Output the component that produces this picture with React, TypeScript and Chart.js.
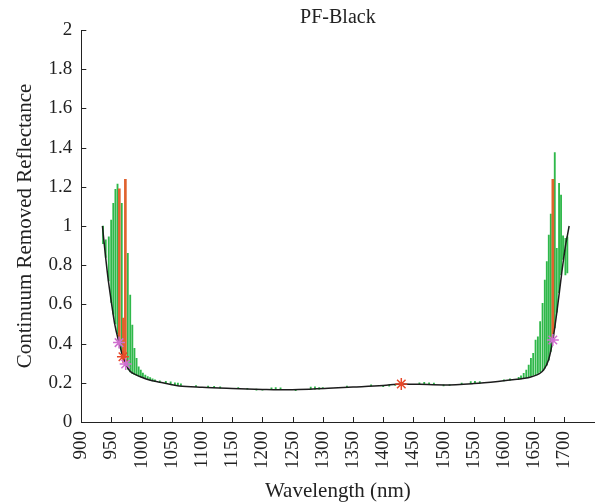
import React, { useEffect, useRef } from "react";
import { Chart, registerables } from "chart.js";

Chart.register(...registerables);

const TITLE = "PF-Black";
const X_LABEL = "Wavelength (nm)";
const Y_LABEL = "Continuum Removed Reflectance";

const X_TICKS = [900, 950, 1000, 1050, 1100, 1150, 1200, 1250, 1300, 1350, 1400, 1450, 1500, 1550, 1600, 1650, 1700];
const Y_TICKS = [0, 0.2, 0.4, 0.6, 0.8, 1, 1.2, 1.4, 1.6, 1.8, 2];

// Continuum removed reflectance curve (black)
const curveWl = [935, 939, 944, 950, 955, 962.5, 969, 974.5, 980, 991, 1000, 1013, 1030, 1050, 1062, 1100, 1150, 1200, 1227, 1260, 1309, 1350, 1400, 1430, 1460, 1501, 1550, 1590, 1621.5, 1640, 1649, 1658, 1665.5, 1674, 1681, 1687.5, 1695.7, 1702, 1705, 1708];
const curveVal = [1.0, 0.878, 0.74, 0.607, 0.505, 0.405, 0.333, 0.29, 0.262, 0.24, 0.228, 0.214, 0.203, 0.19, 0.184, 0.177, 0.171, 0.166, 0.164, 0.166, 0.172, 0.178, 0.186, 0.194, 0.192, 0.189, 0.196, 0.207, 0.218, 0.226, 0.234, 0.246, 0.265, 0.318, 0.418, 0.556, 0.76, 0.9, 0.95, 1.0];

// Green stems (low / high)
const greenWl = [936, 940.5, 945.5, 949.5, 953, 956.5, 960, 967, 977, 981, 984.5, 988, 991.5, 995, 998.5, 1002, 1006, 1010, 1014, 1018, 1022,
  1030, 1040, 1048, 1055, 1060, 1065, 1090, 1110, 1120, 1130, 1160, 1175, 1190, 1200, 1215, 1222, 1230, 1255, 1280, 1287, 1294, 1300, 1340,
  1380, 1400, 1410, 1420, 1460, 1468, 1476, 1484, 1500, 1510, 1530, 1545, 1552, 1560, 1600, 1610,
  1624.4, 1628.3, 1632.7, 1637, 1641, 1644.7, 1648.5, 1652.4, 1656.2, 1660, 1664, 1667.7, 1671, 1674.3, 1677.6, 1684.2, 1687.5, 1691.3, 1694.6, 1697.9, 1701.8, 1705];
const greenLo = [0.91, 0.84, 0.72, 0.61, 0.55, 0.5, 0.45, 0.35, 0.27, 0.255, 0.248, 0.242, 0.238, 0.234, 0.23, 0.226, 0.222, 0.218, 0.214, 0.21, 0.207,
  0.203, 0.198, 0.195, 0.19, 0.188, 0.187, 0.18, 0.177, 0.175, 0.174, 0.17, 0.168, 0.162, 0.163, 0.166, 0.166, 0.166, 0.16, 0.168, 0.168, 0.168, 0.17, 0.177,
  0.184, 0.18, 0.183, 0.186, 0.19, 0.19, 0.19, 0.19, 0.184, 0.186, 0.193, 0.196, 0.197, 0.198, 0.21, 0.214,
  0.218, 0.22, 0.223, 0.226, 0.23, 0.234, 0.238, 0.242, 0.248, 0.255, 0.262, 0.275, 0.29, 0.315, 0.36, 0.48, 0.56, 0.66, 0.75, 0.83, 0.75, 0.76];
const greenHi = [1.0, 0.93, 0.945, 1.03, 1.116, 1.187, 1.214, 1.116, 0.86, 0.648, 0.495, 0.376, 0.325, 0.282, 0.265, 0.25, 0.24, 0.232, 0.226, 0.22, 0.215,
  0.21, 0.207, 0.205, 0.2, 0.198, 0.195, 0.186, 0.183, 0.182, 0.18, 0.175, 0.172, 0.168, 0.167, 0.174, 0.176, 0.174, 0.166, 0.178, 0.18, 0.176, 0.175, 0.183,
  0.19, 0.187, 0.19, 0.192, 0.2, 0.202, 0.2, 0.198, 0.19, 0.191, 0.198, 0.206, 0.208, 0.206, 0.215, 0.22,
  0.228, 0.235, 0.248, 0.265, 0.29, 0.325, 0.35, 0.418, 0.435, 0.512, 0.605, 0.724, 0.818, 0.954, 1.061, 1.374, 0.886, 1.218, 1.158, 0.95, 0.937, 0.945];

// Orange-red vertical lines
const redLineWl = [963, 969.7, 973, 1681];
const redLineLo = [0.405, 0.333, 0.3, 0.418];
const redLineHi = [1.19, 0.53, 1.238, 1.238];

// Markers
const magentaWl = [962.5, 973.5, 1681];
const magentaVal = [0.405, 0.296, 0.418];
const redStarWl = [969, 1430];
const redStarVal = [0.333, 0.194];

const FONT = '"Liberation Serif", "Times New Roman", serif';

const decorPlugin = {
  id: "decor",
  afterDraw(chart: any) {
    const { ctx, chartArea, scales } = chart;
    ctx.save();
    ctx.strokeStyle = "#222";
    ctx.lineWidth = 1;
    ctx.beginPath();
    for (const t of scales.x.ticks) {
      const px = Math.round(scales.x.getPixelForValue(t.value)) + 0.5;
      ctx.moveTo(px, chartArea.bottom);
      ctx.lineTo(px, chartArea.bottom - 5);
    }
    for (const t of scales.y.ticks) {
      const py = Math.round(scales.y.getPixelForValue(t.value)) + 0.5;
      ctx.moveTo(chartArea.left, py);
      ctx.lineTo(chartArea.left + 5, py);
    }
    ctx.stroke();
    ctx.fillStyle = "#222";
    ctx.font = `20px ${FONT}`;
    ctx.textAlign = "center";
    ctx.textBaseline = "alphabetic";
    ctx.fillText(TITLE, (chartArea.left + chartArea.right) / 2, 23);
    ctx.restore();
  },
};

export default function App() {
  const ref = useRef<HTMLCanvasElement | null>(null);

  useEffect(() => {
    if (!ref.current) return;
    const chart = new Chart(ref.current, {
      type: "line",
      data: {
        datasets: [
          {
            type: "scatter",
            label: "magenta",
            data: magentaWl.map((x, i) => ({ x, y: magentaVal[i] })),
            pointStyle: "star",
            pointRadius: 6,
            borderColor: "#cf6fcf",
            backgroundColor: "#cf6fcf",
            borderWidth: 1.5,
            order: 0,
          } as any,
          {
            type: "scatter",
            label: "red",
            data: redStarWl.map((x, i) => ({ x, y: redStarVal[i] })),
            pointStyle: "star",
            pointRadius: 6,
            borderColor: "#e8482a",
            backgroundColor: "#e8482a",
            borderWidth: 1.5,
            order: 0,
          } as any,
          {
            type: "line",
            label: "curve",
            data: curveWl.map((x, i) => ({ x, y: curveVal[i] })),
            borderColor: "#1c1c1c",
            borderWidth: 1.5,
            pointRadius: 0,
            cubicInterpolationMode: "monotone",
            fill: false,
            order: 1,
          } as any,
          {
            type: "bar",
            label: "redlines",
            data: redLineWl.map((x, i) => ({ x, y: [redLineLo[i], redLineHi[i]] })),
            backgroundColor: "#e0622e",
            borderWidth: 0,
            barThickness: 2,
            grouped: false,
            order: 2,
          } as any,
          {
            type: "bar",
            label: "green",
            data: greenWl.map((x, i) => ({ x, y: [greenLo[i], greenHi[i]] })),
            backgroundColor: "#2fb84a",
            borderWidth: 0,
            barThickness: 1.2,
            grouped: false,
            order: 3,
          } as any,
        ],
      },
      options: {
        animation: false,
        responsive: true,
        maintainAspectRatio: false,
        layout: { padding: { top: 30, right: 4, left: 0, bottom: 0 } },
        plugins: { legend: { display: false }, tooltip: { enabled: false }, title: { display: false } },
        scales: {
          x: {
            type: "linear",
            min: 900,
            max: 1750,
            offset: false,
            afterBuildTicks: (s: any) => {
              s.ticks = X_TICKS.map((v) => ({ value: v }));
            },
            afterFit: (s: any) => {
              s.height = 82;
            },
            grid: { display: false, drawTicks: false, offset: false },
            border: { display: true, color: "#222", width: 1 },
            ticks: {
              minRotation: 90,
              maxRotation: 90,
              padding: 9,
              color: "#222",
              font: { family: FONT, size: 19 },
              callback: (v: any) => String(v),
            },
            title: {
              display: true,
              text: X_LABEL,
              color: "#222",
              font: { family: FONT, size: 21 },
              padding: { top: 4, bottom: 0 },
            },
          },
          y: {
            type: "linear",
            min: 0,
            max: 2,
            afterBuildTicks: (s: any) => {
              s.ticks = Y_TICKS.map((v) => ({ value: v }));
            },
            afterFit: (s: any) => {
              s.width = 81.3;
            },
            grid: { display: false, drawTicks: false },
            border: { display: true, color: "#222", width: 1 },
            ticks: {
              padding: 9,
              color: "#222",
              font: { family: FONT, size: 19 },
              callback: (v: any) => String(parseFloat(Number(v).toFixed(1))),
            },
            title: {
              display: true,
              text: Y_LABEL,
              color: "#222",
              font: { family: FONT, size: 21 },
              padding: { top: 13, bottom: 4 },
            },
          },
        },
      },
      plugins: [decorPlugin],
    });
    return () => chart.destroy();
  }, []);

  return (
    <div style={{ position: "fixed", left: 0, top: 0, width: 602, height: 504, background: "#fff" }}>
      <canvas ref={ref} />
    </div>
  );
}
